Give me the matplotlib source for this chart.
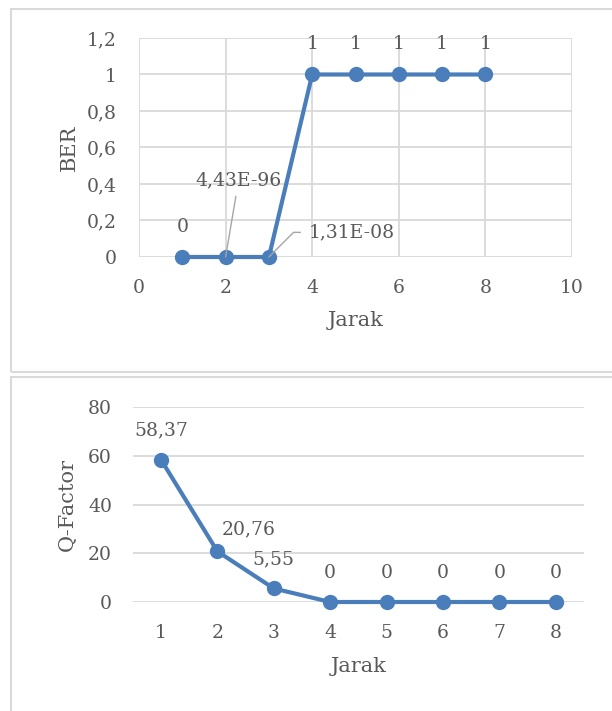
import matplotlib
matplotlib.use("Agg")
import matplotlib.pyplot as plt
from matplotlib.patches import Rectangle

jarak = [1, 2, 3, 4, 5, 6, 7, 8]
ber = [0, 4.43e-96, 1.31e-08, 1, 1, 1, 1, 1]
ber_labels = ["0", "4,43E-96", "1,31E-08", "1", "1", "1", "1", "1"]
qf = [58.37, 20.76, 5.55, 0, 0, 0, 0, 0]
qf_labels = ["58,37", "20,76", "5,55", "0", "0", "0", "0", "0"]
ber_yticks = [0, 0.2, 0.4, 0.6, 0.8, 1.0, 1.2]
ber_yticklabels = ["0", "0,2", "0,4", "0,6", "0,8", "1", "1,2"]
ber_xticks = [0, 2, 4, 6, 8, 10]
qf_yticks = [0, 20, 40, 60, 80]

plt.rcParams['font.family'] = ['DejaVu Serif']
TXT = '#595959'
GRID = '#D9D9D9'
BLUE = '#4A7EBB'
FS = 13.5
LFS = 15

W, H = 612, 711
fig = plt.figure(figsize=(W / 100, H / 100), dpi=100)

def fx(px):
    return px / W

def fy(py):
    return 1 - py / H

# panel borders
fig.patches.append(Rectangle((fx(11), fy(372)), fx(640) - fx(11), fy(9) - fy(372),
                             transform=fig.transFigure, fill=False, ec=GRID, lw=1.5))
fig.patches.append(Rectangle((fx(11), fy(760)), fx(640) - fx(11), fy(377) - fy(760),
                             transform=fig.transFigure, fill=False, ec=GRID, lw=1.5))

# ---- Top: BER ----
ax1 = fig.add_axes([fx(139), fy(257), fx(572) - fx(139), fy(38) - fy(257)])
ax1.plot(jarak, ber, color=BLUE, lw=3, marker='o', ms=10, zorder=3, clip_on=False)
ax1.set_xlim(0, 10)
ax1.set_ylim(0, 1.2)
ax1.set_xticks(ber_xticks)
ax1.set_yticks(ber_yticks)
ax1.set_yticklabels(ber_yticklabels)
ax1.grid(True, color=GRID, lw=1.3)
ax1.set_axisbelow(True)
for s in ax1.spines.values():
    s.set_visible(False)
ax1.tick_params(length=0, labelsize=FS, colors=TXT)
ax1.tick_params(axis='x', pad=16)
ax1.tick_params(axis='y', pad=16)
ax1.set_xlabel("Jarak", fontsize=LFS, color=TXT, labelpad=10)
ax1.set_ylabel("BER", fontsize=LFS, color=TXT, labelpad=6)

for x, y, lab in zip(jarak, ber, ber_labels):
    if lab == "4,43E-96":
        ax1.annotate(lab, xy=(x, y), xytext=(x + 0.3, 0.42), ha='center', va='center',
                     fontsize=FS, color=TXT,
                     arrowprops=dict(arrowstyle='-', color='#A6A6A6', lw=1,
                                     shrinkA=3, shrinkB=0))
    elif lab == "1,31E-08":
        ax1.annotate(lab, xy=(x, y), xytext=(x + 0.92, 0.135), ha='left', va='center',
                     fontsize=FS, color=TXT,
                     arrowprops=dict(arrowstyle='-', color='#A6A6A6', lw=1,
                                     shrinkA=4, shrinkB=0,
                                     connectionstyle='angle,angleA=0,angleB=45,rad=0'))
    else:
        ax1.text(x, y + 0.165, lab, ha='center', va='center', fontsize=FS, color=TXT)

# ---- Bottom: Q-Factor ----
ax2 = fig.add_axes([fx(132.8), fy(602), fx(584) - fx(132.8), fy(407) - fy(602)])
ax2.plot(jarak, qf, color=BLUE, lw=3, marker='o', ms=10, zorder=3, clip_on=False)
ax2.set_xlim(0.5, 8.5)
ax2.set_ylim(0, 80)
ax2.set_xticks(jarak)
ax2.set_yticks(qf_yticks)
ax2.grid(True, axis='y', color=GRID, lw=1.3)
ax2.set_axisbelow(True)
for s in ax2.spines.values():
    s.set_visible(False)
ax2.tick_params(length=0, labelsize=FS, colors=TXT)
ax2.tick_params(axis='x', pad=16)
ax2.tick_params(axis='y', pad=15)
ax2.set_xlabel("Jarak", fontsize=LFS, color=TXT, labelpad=11)
ax2.set_ylabel("Q-Factor", fontsize=LFS, color=TXT, labelpad=8)

for x, y, lab in zip(jarak, qf, qf_labels):
    if lab == "20,76":
        ax2.text(x + 0.55, y + 9.2, lab, ha='center', va='center', fontsize=FS, color=TXT)
    else:
        ax2.text(x, y + 12, lab, ha='center', va='center', fontsize=FS, color=TXT)

fig.savefig("out.png", dpi=100)
